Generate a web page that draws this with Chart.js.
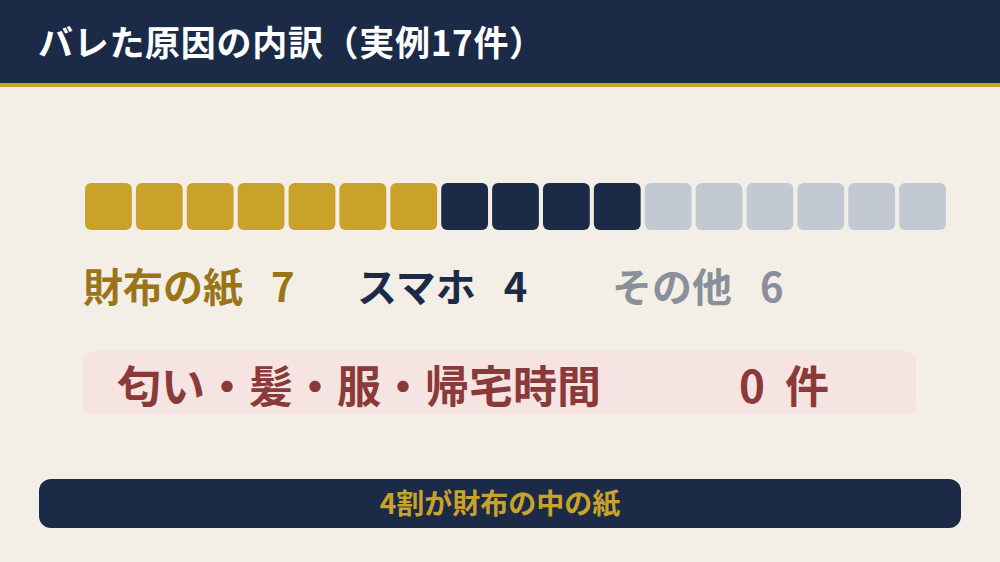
<!DOCTYPE html>
<html lang="ja">
<head>
<meta charset="utf-8">
<script src="https://cdn.jsdelivr.net/npm/chart.js@4"></script>
<style>
  html, body { margin: 0; padding: 0; }
  body {
    width: 1000px; height: 562px; overflow: hidden; position: relative;
    background: #F3EFE6;
    font-family: "Noto Sans CJK JP", sans-serif;
    font-weight: bold;
  }
  #header {
    position: absolute; left: 0; top: 0; width: 1000px; height: 83px;
    background: #1B2A47; border-bottom: 4px solid #C9A22A;
  }
  #title {
    position: absolute; left: 38px; top: 16px; color: #fff;
    font-size: 35px; line-height: 50px; letter-spacing: 0.7px; white-space: nowrap;
  }
  #waffle { position: absolute; left: 83px; top: 183px; width: 865px; height: 47px; }
  .lbl {
    position: absolute; top: 260px; font-size: 40px; line-height: 50px; white-space: nowrap;
  }
  .lbl .num { margin-left: 28px; }
  #none {
    position: absolute; left: 83px; top: 351px; width: 833px; height: 64px;
    background: #F5E4E2; border-radius: 10px; color: #8B3A3A;
  }
  #none .txt { position: absolute; left: 34px; top: 3px; font-size: 44px; line-height: 60px; white-space: nowrap; }
  #none .cnt { position: absolute; left: 656px; top: 3px; font-size: 44px; line-height: 60px; white-space: nowrap; }
  #none .cnt span { margin-left: 20px; }
  #footer {
    position: absolute; left: 39px; top: 479px; width: 922px; height: 49px;
    background: #1B2A47; border-radius: 12px; color: #C9A22A;
    font-size: 28px; line-height: 47px; text-align: center;
  }
</style>
</head>
<body>
<div id="header"><div id="title"></div></div>
<div id="waffle"><canvas id="chart"></canvas></div>
<div id="labels"></div>
<div id="none"><div class="txt"></div><div class="cnt"></div></div>
<div id="footer"></div>
<script>
// Data
const titleText = 'バレた原因の内訳（実例17件）';
const categories = ['財布の紙', 'スマホ', 'その他'];
const counts = [7, 4, 6];
const cellColors = ['#C9A22A', '#1B2A47', '#C3C9D3'];
const labelColors = ['#9B7318', '#1B2A47', '#8A909B'];
const labelLefts = [83, 357, 612];
const noneLabel = '匂い・髪・服・帰宅時間';
const noneCount = 0;
const footerText = '4割が財布の中の紙';

document.getElementById('title').textContent = titleText;
document.getElementById('footer').textContent = footerText;
document.querySelector('#none .txt').textContent = noneLabel;
document.querySelector('#none .cnt').innerHTML = noneCount + '<span>件</span>';

// category labels under the waffle
var labelsDiv = document.getElementById('labels');
categories.forEach(function(cat, i) {
  var d = document.createElement('div');
  d.className = 'lbl';
  d.style.left = labelLefts[i] + 'px';
  d.style.color = labelColors[i];
  d.innerHTML = cat + '<span class="num">' + counts[i] + '</span>';
  labelsDiv.appendChild(d);
});

// one cell per case
var cells = [], colors = [];
categories.forEach(function(cat, i) {
  for (var k = 0; k < counts[i]; k++) {
    cells.push(cat + ' ' + (k + 1));
    colors.push(cellColors[i]);
  }
});

new Chart(document.getElementById('chart').getContext('2d'), {
  type: 'bar',
  data: {
    labels: cells,
    datasets: [{
      data: cells.map(() => 1),
      backgroundColor: colors,
      borderRadius: 6,
      borderSkipped: false,
      barPercentage: 0.92,
      categoryPercentage: 1
    }]
  },
  options: {
    responsive: true,
    maintainAspectRatio: false,
    animation: false,
    layout: { padding: 0 },
    scales: {
      x: { display: false },
      y: { display: false, min: 0, max: 1 }
    },
    plugins: { legend: { display: false }, tooltip: { enabled: false } }
  }
});
</script>
</body>
</html>
